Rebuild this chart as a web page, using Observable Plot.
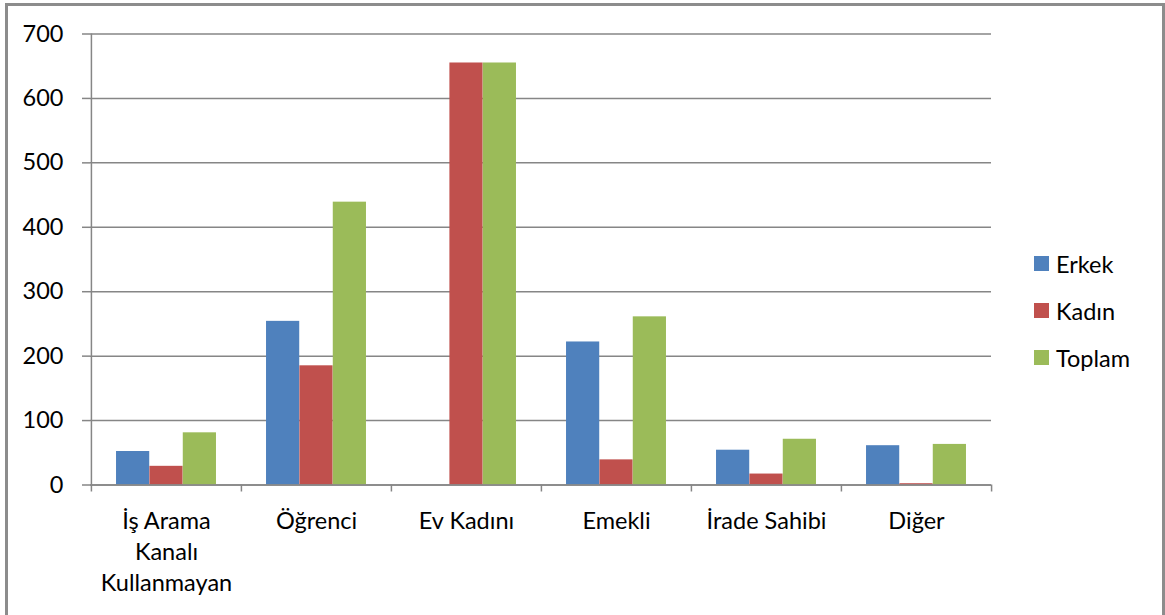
<!DOCTYPE html>
<html><head><meta charset="utf-8">
<script src="https://cdn.jsdelivr.net/npm/d3@7"></script>
<script src="https://cdn.jsdelivr.net/npm/@observablehq/plot@0.6"></script>
<style>
html,body{margin:0;padding:0;background:#fff;}
#wrap{position:relative;width:1165px;height:615px;overflow:hidden;font-family:Lato, sans-serif;}
#border{position:absolute;left:5px;top:3px;width:1160px;height:700px;border:3px solid #8c8c8c;box-sizing:border-box;}
#chart{position:absolute;left:0;top:0;}
#legend{position:absolute;left:1034px;top:240px;}
.item{display:flex;align-items:center;height:47px;font-size:23.5px;color:#000;}
.sw{width:15px;height:15px;margin-right:7px;}
</style></head><body>
<div id="wrap"><div id="border"></div><div id="chart"></div><div id="legend"></div></div>
<script>
const categories = ["İş Arama\nKanalı\nKullanmayan", "Öğrenci", "Ev Kadını", "Emekli", "İrade Sahibi", "Diğer"];
const series = ["Erkek", "Kadın", "Toplam"];
const erkek = [52, 254, 0, 222, 54, 61];
const kadin = [29, 185, 655, 39, 17, 2];
const toplam = [81, 439, 655, 261, 71, 63];
const yTicks = [0, 100, 200, 300, 400, 500, 600, 700];
const colors = ["#4F81BD", "#C0504D", "#9BBB59"];

const values = [erkek, kadin, toplam];
const rows = categories.flatMap((c, i) => series.map((s, j) => ({category: c, series: s, value: values[j][i]})));

const W = 1165, H = 615, mL = 90, mR = 174, mT = 33.5, mB = 130.5;
const bw = (W - mL - mR) / categories.length;
const outer = bw / 6, barW = (bw - 2 * outer) / series.length;
const gray = "#868686";
const fs = 23.5;

const chart = Plot.plot({
  width: W, height: H,
  marginLeft: mL, marginRight: mR, marginTop: mT, marginBottom: mB,
  style: {fontFamily: "Lato, sans-serif", fontSize: fs + "px", color: "#000", background: "transparent"},
  x: {type: "band", domain: categories, padding: 0, axis: null, label: null},
  y: {domain: [0, 700], axis: null, label: null},
  color: {domain: series, range: colors},
  marks: [
    Plot.gridY(yTicks, {stroke: gray, strokeOpacity: 1, strokeWidth: 1.5}),
    ...series.map((s, j) => Plot.barY(rows.filter(d => d.series === s), {
      x: "category", y: "value", fill: "series",
      insetLeft: outer + j * barW, insetRight: bw - outer - (j + 1) * barW
    })),
    Plot.ruleX([categories[0]], {dx: -bw / 2, stroke: gray, strokeWidth: 1.5}),
    Plot.ruleY([0], {stroke: gray, strokeWidth: 1.5}),
    Plot.axisY({ticks: yTicks, tickSize: 8, tickPadding: 19, stroke: gray, strokeWidth: 1.5, fontSize: fs, fill: "#000", label: null}),
    Plot.axisX({ticks: categories, tickSize: 7, tickFormat: () => "", dx: -bw / 2, stroke: gray, strokeWidth: 1.5, label: null}),
    Plot.axisX({ticks: [categories[categories.length - 1]], tickSize: 7, tickFormat: () => "", dx: bw / 2, stroke: gray, strokeWidth: 1.5, label: null}),
    Plot.text(categories, {x: d => d, frameAnchor: "bottom", lineAnchor: "top", dy: 22, lineHeight: 1.32, fontSize: fs, fill: "#000"})
  ]
});
document.getElementById("chart").appendChild(chart);

const legend = document.getElementById("legend");
series.forEach((s, j) => {
  const item = document.createElement("div");
  item.className = "item";
  const sw = document.createElement("div");
  sw.className = "sw";
  sw.style.background = colors[j];
  const t = document.createElement("span");
  t.textContent = s;
  item.appendChild(sw); item.appendChild(t);
  legend.appendChild(item);
});
</script>
</body></html>
